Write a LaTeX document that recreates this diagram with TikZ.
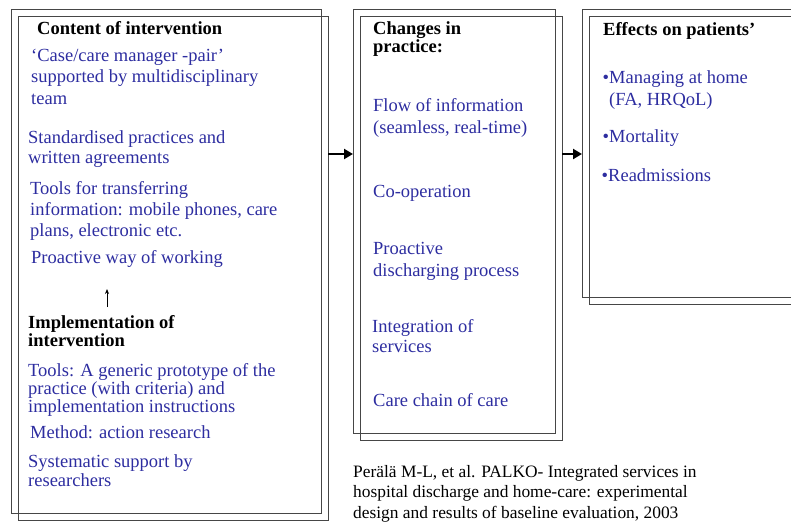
\documentclass[tikz,border=0pt]{standalone}
\usepackage{fontspec}
\setmainfont{Liberation Serif}
\usepackage{tikz}
\usetikzlibrary{arrows.meta}
\definecolor{ink}{RGB}{45,45,160}
\definecolor{edge}{RGB}{70,70,70}

\begin{document}
\begin{tikzpicture}[x=1pt,y=-1pt,
  frame/.style={draw=edge,line width=0.9pt},
  push/.style={line width=2.8pt,-{Triangle[length=9pt,width=10pt]}},
  txt/.style={anchor=base west,inner sep=0pt,align=left,text=ink,
    font=\fontsize{18.5}{21}\selectfont},
  lead/.style={txt,font=\fontsize{18.5}{#1}\selectfont},
  head/.style={txt,text=black,font=\fontsize{18.5}{18}\selectfont\bfseries},
  cite/.style={txt,text=black,font=\fontsize{17.4}{20.5}\selectfont}]
 \clip (0,0) rectangle (791,522);
 \foreach \d in {0,7} {
  \draw[frame] (11+\d,9+\d) rectangle (321+\d,513+\d);
  \draw[frame] (353+\d,9+\d) rectangle (555+\d,433+\d);
  \draw[frame] (582+\d,9+\d) rectangle (810+\d,297+\d);
 }
 % multi-line nodes sit on the baseline of their last line
 \node[head] (content) at (37,34) {Content of intervention};
 \node[lead=21.5] (pair) at (31,104) {‘Case/care manager -pair’\\supported by multidisciplinary\\team};
 \node[lead=20] (standard) at (28,163) {Standardised practices and\\written agreements};
 \node[txt] (tools) at (30,236) {Tools for transferring\\information: mobile phones, care\\plans, electronic etc.};
 \node[txt] (proactive) at (31,263) {Proactive way of working};
 \node[head] (implement) at (28,346) {Implementation of\\intervention};
 \node[lead=18.3] (prototype) at (28,412.6) {Tools: A generic prototype of the\\practice (with criteria) and\\implementation instructions};
 \node[txt] (method) at (30,438) {Method: action research};
 \node[lead=19] (support) at (28,486) {Systematic support by\\researchers};

 \node[head] (changes) at (373,52) {Changes in\\practice:};
 \node[lead=22] (info) at (373,133) {Flow of information\\(seamless, real-time)};
 \node[txt] (coop) at (373,197) {Co-operation};
 \node[lead=22] (discharge) at (373,276) {Proactive\\discharging process};
 \node[lead=20.5] (integration) at (372,352.5) {Integration of\\services};
 \node[txt] (chain) at (373,406) {Care chain of care};

 \node[head] (effects) at (603,35) {Effects on patients’};
 \node[lead=22] (home) at (609,105) {\llap{\textbullet}Managing at home\\(FA, HRQoL)};
 \node[txt] (mortality) at (609,142) {\llap{\textbullet}Mortality};
 \node[txt] (readmit) at (608,181) {\llap{\textbullet}Readmissions};

 \node[cite] (palko) at (353,518) {Perälä M-L, et al. PALKO- Integrated services in\\hospital discharge and home-care: experimental\\design and results of baseline evaluation, 2003};

 \coordinate (content-out) at (328,154);
 \coordinate (changes-in) at (353,154);
 \coordinate (changes-out) at (562,154);
 \coordinate (effects-in) at (582,154);
 \draw[push] (content-out) -- (changes-in);
 \draw[push] (changes-out) -- (effects-in);
 \coordinate (up-from) at (107,307);
 \coordinate (up-to) at (107,289);
 \draw[line width=0.8pt,-{Stealth[length=5pt,width=4pt]}] (up-from) -- (up-to);
\end{tikzpicture}
\end{document}
